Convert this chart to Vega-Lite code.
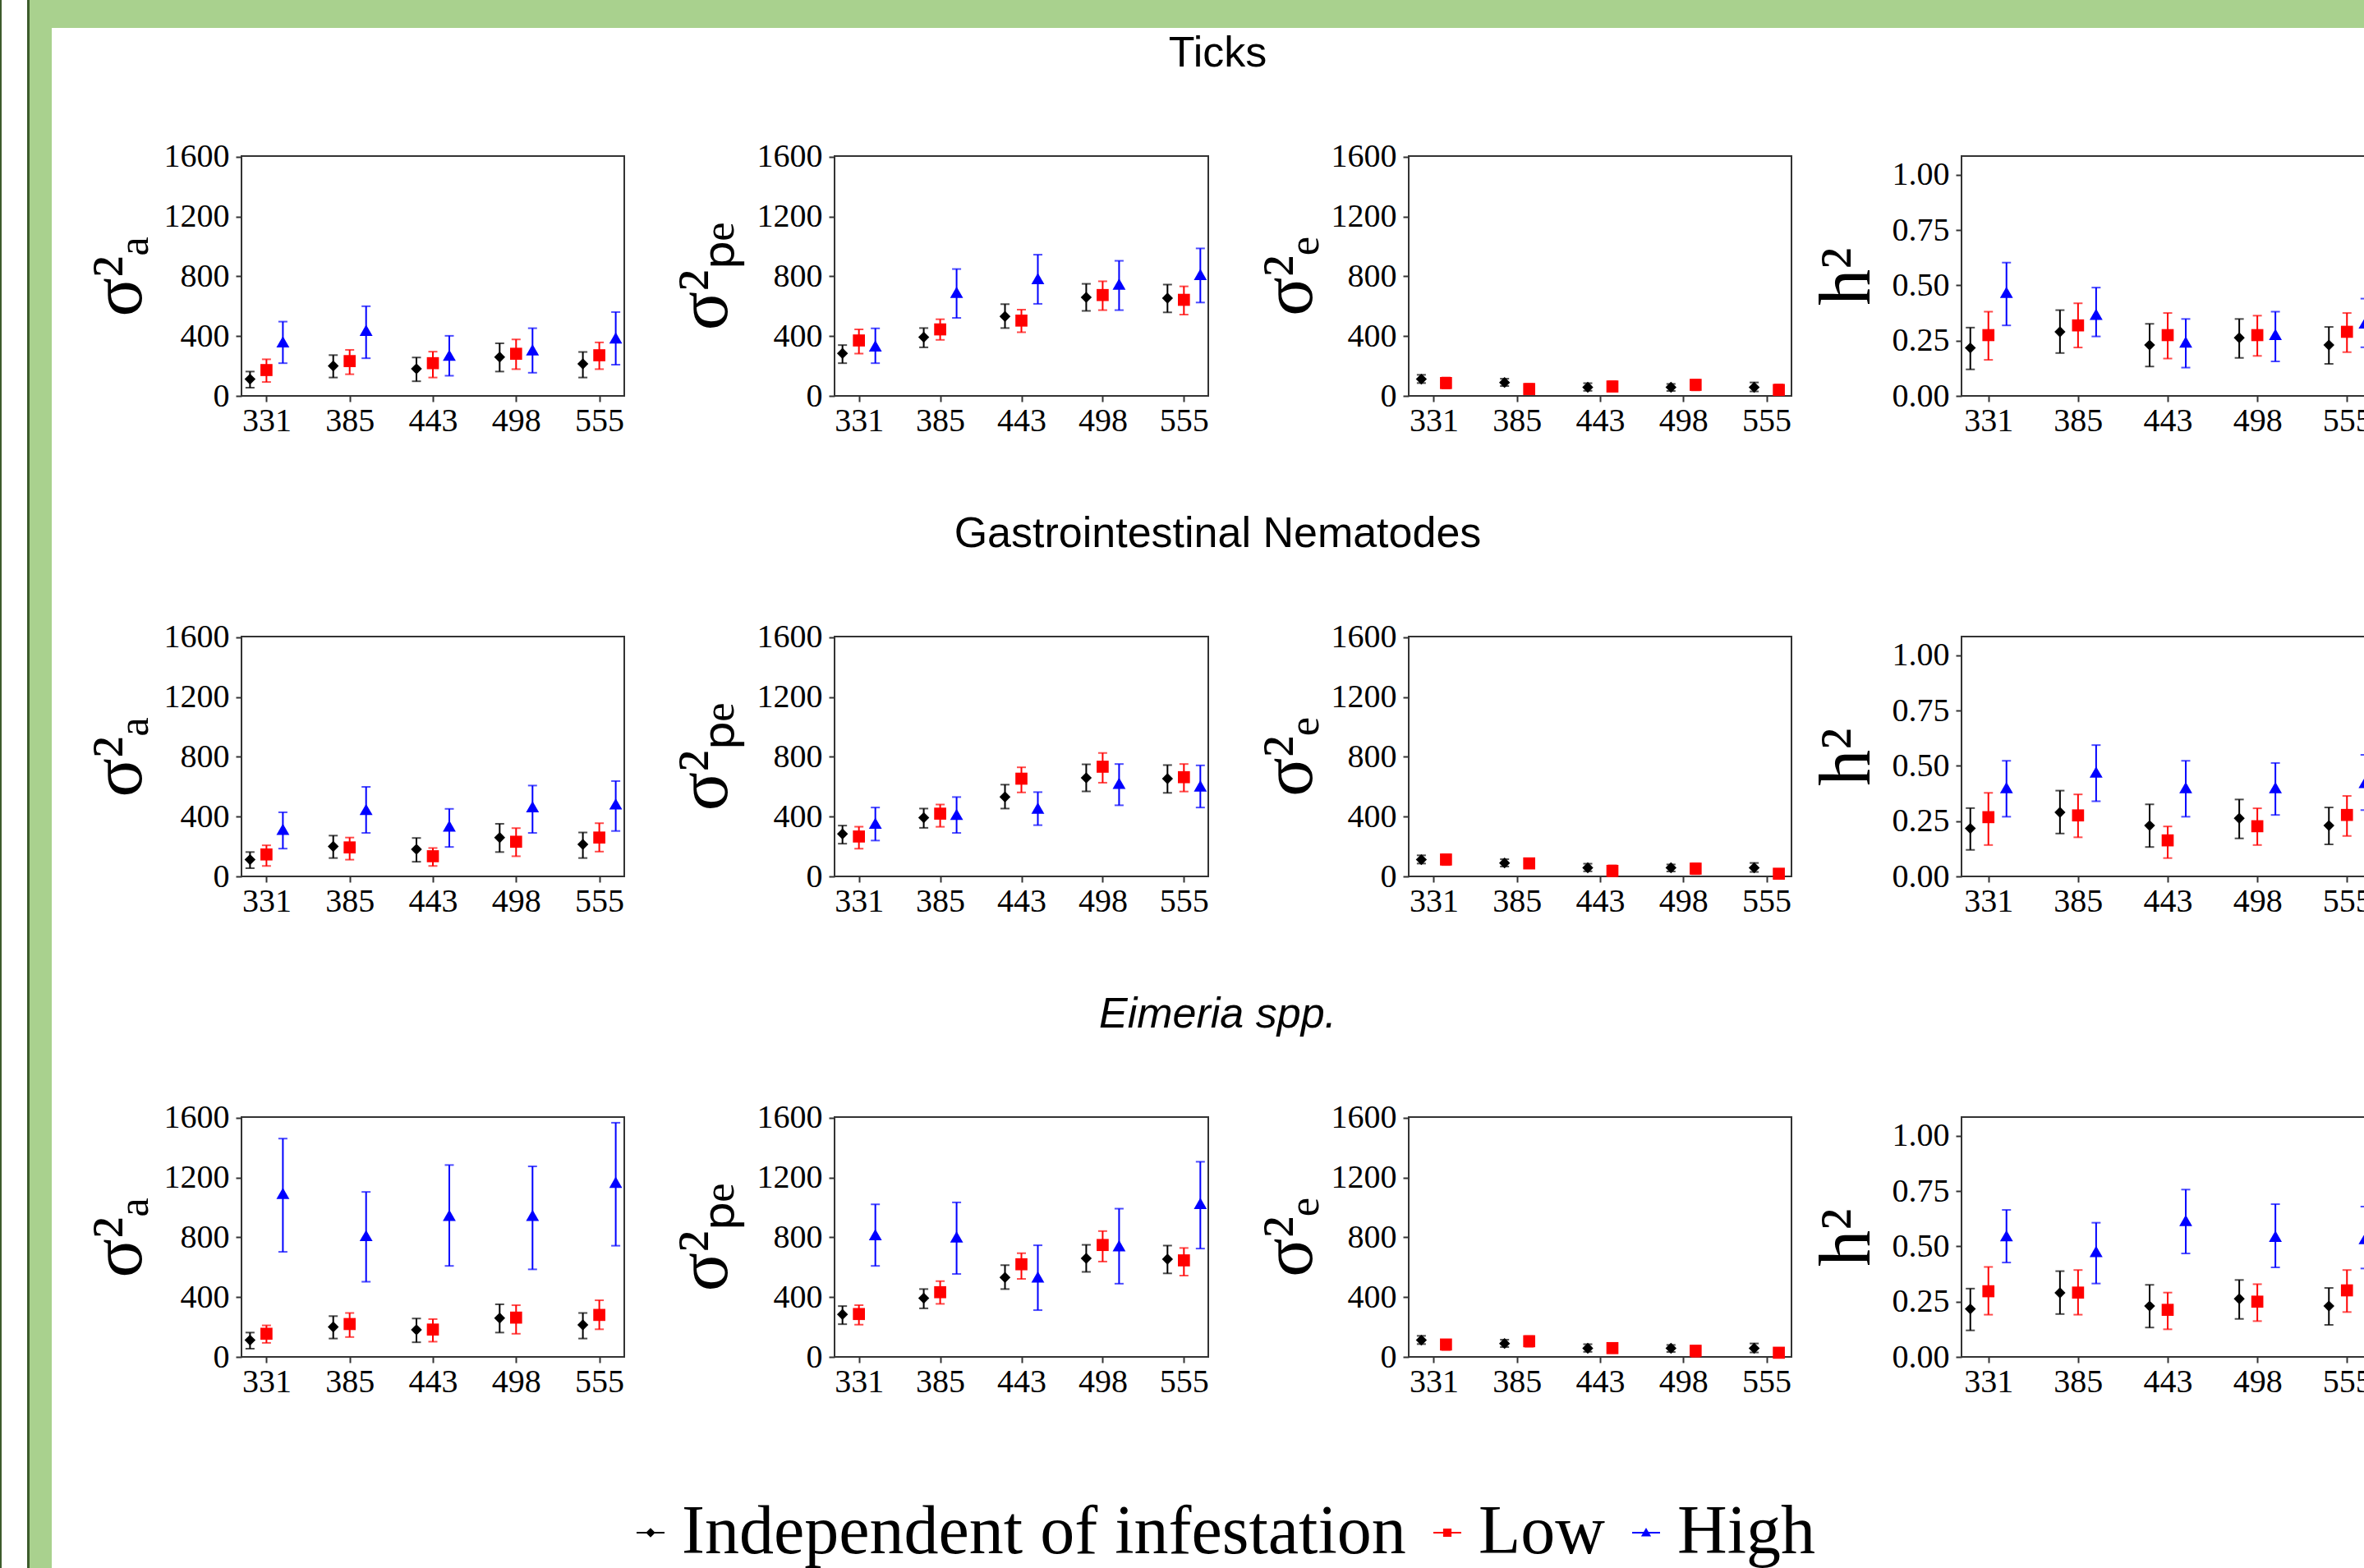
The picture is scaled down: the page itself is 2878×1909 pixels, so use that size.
{
"$schema": "https://vega.github.io/schema/vega-lite/v6.json",
"background": "#ffffff",
"padding": 0,
"spacing": 0,
"config": {
  "view": {"stroke": "#333333", "strokeWidth": 2},
  "concat": {"spacing": 0},
  "axis": {"labelFont": "Liberation Serif", "labelFontSize": 40, "labelColor": "#000000", "tickColor": "#333333", "tickSize": 7, "tickWidth": 2, "domain": false, "grid": false, "titleFont": "Liberation Serif", "titleFontSize": 88, "titleFontWeight": "normal", "titleColor": "#000000", "labelPadding": 8},
  "axisX": {"labelPadding": 3, "labelAngle": 0},
  "axisY": {"labelFlush": false},
  "tick": {"thickness": 2, "size": 11},
  "title": {"font": "Liberation Sans", "fontSize": 52, "fontWeight": "normal", "color": "#000000", "anchor": "middle", "offset": 78, "dx": -13}
},
"datasets": {"d": [
{"row":"T","param":"a","day":"331","group":"Independent of infestation","est":112,"lo":55,"hi":163},
{"row":"T","param":"a","day":"385","group":"Independent of infestation","est":201,"lo":123,"hi":273},
{"row":"T","param":"a","day":"443","group":"Independent of infestation","est":181,"lo":98,"hi":257},
{"row":"T","param":"a","day":"498","group":"Independent of infestation","est":260,"lo":163,"hi":352},
{"row":"T","param":"a","day":"555","group":"Independent of infestation","est":214,"lo":123,"hi":294},
{"row":"T","param":"pe","day":"331","group":"Independent of infestation","est":284,"lo":219,"hi":340},
{"row":"T","param":"pe","day":"385","group":"Independent of infestation","est":393,"lo":325,"hi":454},
{"row":"T","param":"pe","day":"443","group":"Independent of infestation","est":532,"lo":454,"hi":614},
{"row":"T","param":"pe","day":"498","group":"Independent of infestation","est":660,"lo":569,"hi":750},
{"row":"T","param":"pe","day":"555","group":"Independent of infestation","est":654,"lo":559,"hi":745},
{"row":"T","param":"e","day":"331","group":"Independent of infestation","est":112,"lo":86,"hi":141},
{"row":"T","param":"e","day":"385","group":"Independent of infestation","est":90,"lo":66,"hi":115},
{"row":"T","param":"e","day":"443","group":"Independent of infestation","est":58,"lo":34,"hi":85},
{"row":"T","param":"e","day":"498","group":"Independent of infestation","est":58,"lo":33,"hi":80},
{"row":"T","param":"e","day":"555","group":"Independent of infestation","est":58,"lo":30,"hi":90},
{"row":"T","param":"h","day":"331","group":"Independent of infestation","est":0.217,"lo":0.12,"hi":0.309},
{"row":"T","param":"h","day":"385","group":"Independent of infestation","est":0.29,"lo":0.194,"hi":0.388},
{"row":"T","param":"h","day":"443","group":"Independent of infestation","est":0.23,"lo":0.133,"hi":0.326},
{"row":"T","param":"h","day":"498","group":"Independent of infestation","est":0.263,"lo":0.172,"hi":0.348},
{"row":"T","param":"h","day":"555","group":"Independent of infestation","est":0.23,"lo":0.145,"hi":0.312},
{"row":"T","param":"a","day":"331","group":"Low","est":173,"lo":93,"hi":245},
{"row":"T","param":"a","day":"385","group":"Low","est":233,"lo":145,"hi":308},
{"row":"T","param":"a","day":"443","group":"Low","est":219,"lo":123,"hi":296},
{"row":"T","param":"a","day":"498","group":"Low","est":282,"lo":179,"hi":378},
{"row":"T","param":"a","day":"555","group":"Low","est":272,"lo":179,"hi":358},
{"row":"T","param":"pe","day":"331","group":"Low","est":371,"lo":283,"hi":445},
{"row":"T","param":"pe","day":"385","group":"Low","est":445,"lo":375,"hi":513},
{"row":"T","param":"pe","day":"443","group":"Low","est":504,"lo":426,"hi":577},
{"row":"T","param":"pe","day":"498","group":"Low","est":675,"lo":574,"hi":767},
{"row":"T","param":"pe","day":"555","group":"Low","est":643,"lo":544,"hi":733},
{"row":"T","param":"e","day":"331","group":"Low","est":86,"lo":50,"hi":123},
{"row":"T","param":"e","day":"385","group":"Low","est":46,"lo":18,"hi":81},
{"row":"T","param":"e","day":"443","group":"Low","est":63,"lo":31,"hi":99},
{"row":"T","param":"e","day":"498","group":"Low","est":74,"lo":37,"hi":108},
{"row":"T","param":"e","day":"555","group":"Low","est":40,"lo":5,"hi":77},
{"row":"T","param":"h","day":"331","group":"Low","est":0.275,"lo":0.163,"hi":0.381},
{"row":"T","param":"h","day":"385","group":"Low","est":0.319,"lo":0.219,"hi":0.419},
{"row":"T","param":"h","day":"443","group":"Low","est":0.275,"lo":0.169,"hi":0.375},
{"row":"T","param":"h","day":"498","group":"Low","est":0.275,"lo":0.181,"hi":0.363},
{"row":"T","param":"h","day":"555","group":"Low","est":0.29,"lo":0.198,"hi":0.375},
{"row":"T","param":"a","day":"331","group":"High","est":362,"lo":219,"hi":497},
{"row":"T","param":"a","day":"385","group":"High","est":439,"lo":252,"hi":600},
{"row":"T","param":"a","day":"443","group":"High","est":272,"lo":135,"hi":402},
{"row":"T","param":"a","day":"498","group":"High","est":308,"lo":155,"hi":453},
{"row":"T","param":"a","day":"555","group":"High","est":388,"lo":209,"hi":561},
{"row":"T","param":"pe","day":"331","group":"High","est":335,"lo":219,"hi":452},
{"row":"T","param":"pe","day":"385","group":"High","est":693,"lo":522,"hi":849},
{"row":"T","param":"pe","day":"443","group":"High","est":785,"lo":616,"hi":945},
{"row":"T","param":"pe","day":"498","group":"High","est":748,"lo":574,"hi":904},
{"row":"T","param":"pe","day":"555","group":"High","est":813,"lo":625,"hi":987},
{"row":"T","param":"h","day":"331","group":"High","est":0.469,"lo":0.319,"hi":0.603},
{"row":"T","param":"h","day":"385","group":"High","est":0.369,"lo":0.269,"hi":0.49},
{"row":"T","param":"h","day":"443","group":"High","est":0.244,"lo":0.128,"hi":0.348},
{"row":"T","param":"h","day":"498","group":"High","est":0.278,"lo":0.156,"hi":0.381},
{"row":"T","param":"h","day":"555","group":"High","est":0.33,"lo":0.22,"hi":0.44},
{"row":"G","param":"a","day":"331","group":"Independent of infestation","est":112,"lo":55,"hi":163},
{"row":"G","param":"a","day":"385","group":"Independent of infestation","est":201,"lo":123,"hi":273},
{"row":"G","param":"a","day":"443","group":"Independent of infestation","est":181,"lo":98,"hi":257},
{"row":"G","param":"a","day":"498","group":"Independent of infestation","est":260,"lo":163,"hi":352},
{"row":"G","param":"a","day":"555","group":"Independent of infestation","est":214,"lo":123,"hi":294},
{"row":"G","param":"pe","day":"331","group":"Independent of infestation","est":284,"lo":219,"hi":340},
{"row":"G","param":"pe","day":"385","group":"Independent of infestation","est":393,"lo":325,"hi":454},
{"row":"G","param":"pe","day":"443","group":"Independent of infestation","est":532,"lo":454,"hi":614},
{"row":"G","param":"pe","day":"498","group":"Independent of infestation","est":660,"lo":569,"hi":750},
{"row":"G","param":"pe","day":"555","group":"Independent of infestation","est":654,"lo":559,"hi":745},
{"row":"G","param":"e","day":"331","group":"Independent of infestation","est":112,"lo":86,"hi":141},
{"row":"G","param":"e","day":"385","group":"Independent of infestation","est":90,"lo":66,"hi":115},
{"row":"G","param":"e","day":"443","group":"Independent of infestation","est":58,"lo":34,"hi":85},
{"row":"G","param":"e","day":"498","group":"Independent of infestation","est":58,"lo":33,"hi":80},
{"row":"G","param":"e","day":"555","group":"Independent of infestation","est":58,"lo":30,"hi":90},
{"row":"G","param":"h","day":"331","group":"Independent of infestation","est":0.217,"lo":0.12,"hi":0.309},
{"row":"G","param":"h","day":"385","group":"Independent of infestation","est":0.29,"lo":0.194,"hi":0.388},
{"row":"G","param":"h","day":"443","group":"Independent of infestation","est":0.23,"lo":0.133,"hi":0.326},
{"row":"G","param":"h","day":"498","group":"Independent of infestation","est":0.263,"lo":0.172,"hi":0.348},
{"row":"G","param":"h","day":"555","group":"Independent of infestation","est":0.23,"lo":0.145,"hi":0.312},
{"row":"G","param":"a","day":"331","group":"Low","est":147,"lo":70,"hi":208},
{"row":"G","param":"a","day":"385","group":"Low","est":194,"lo":112,"hi":260},
{"row":"G","param":"a","day":"443","group":"Low","est":135,"lo":70,"hi":190},
{"row":"G","param":"a","day":"498","group":"Low","est":232,"lo":135,"hi":323},
{"row":"G","param":"a","day":"555","group":"Low","est":260,"lo":166,"hi":356},
{"row":"G","param":"pe","day":"331","group":"Low","est":267,"lo":186,"hi":332},
{"row":"G","param":"pe","day":"385","group":"Low","est":420,"lo":332,"hi":481},
{"row":"G","param":"pe","day":"443","group":"Low","est":654,"lo":562,"hi":730},
{"row":"G","param":"pe","day":"498","group":"Low","est":734,"lo":627,"hi":826},
{"row":"G","param":"pe","day":"555","group":"Low","est":664,"lo":568,"hi":752},
{"row":"G","param":"e","day":"331","group":"Low","est":113,"lo":76,"hi":148},
{"row":"G","param":"e","day":"385","group":"Low","est":87,"lo":55,"hi":116},
{"row":"G","param":"e","day":"443","group":"Low","est":37,"lo":0,"hi":74},
{"row":"G","param":"e","day":"498","group":"Low","est":52,"lo":15,"hi":87},
{"row":"G","param":"e","day":"555","group":"Low","est":18,"lo":0,"hi":42},
{"row":"G","param":"h","day":"331","group":"Low","est":0.268,"lo":0.142,"hi":0.378},
{"row":"G","param":"h","day":"385","group":"Low","est":0.276,"lo":0.177,"hi":0.371},
{"row":"G","param":"h","day":"443","group":"Low","est":0.163,"lo":0.083,"hi":0.226},
{"row":"G","param":"h","day":"498","group":"Low","est":0.227,"lo":0.142,"hi":0.308},
{"row":"G","param":"h","day":"555","group":"Low","est":0.278,"lo":0.183,"hi":0.364},
{"row":"G","param":"a","day":"331","group":"High","est":315,"lo":186,"hi":429},
{"row":"G","param":"a","day":"385","group":"High","est":448,"lo":291,"hi":599},
{"row":"G","param":"a","day":"443","group":"High","est":337,"lo":197,"hi":452},
{"row":"G","param":"a","day":"498","group":"High","est":466,"lo":291,"hi":608},
{"row":"G","param":"a","day":"555","group":"High","est":485,"lo":304,"hi":638},
{"row":"G","param":"pe","day":"331","group":"High","est":356,"lo":240,"hi":461},
{"row":"G","param":"pe","day":"385","group":"High","est":415,"lo":291,"hi":531},
{"row":"G","param":"pe","day":"443","group":"High","est":457,"lo":343,"hi":564},
{"row":"G","param":"pe","day":"498","group":"High","est":623,"lo":476,"hi":752},
{"row":"G","param":"pe","day":"555","group":"High","est":605,"lo":461,"hi":743},
{"row":"G","param":"h","day":"331","group":"High","est":0.402,"lo":0.27,"hi":0.523},
{"row":"G","param":"h","day":"385","group":"High","est":0.472,"lo":0.34,"hi":0.594},
{"row":"G","param":"h","day":"443","group":"High","est":0.402,"lo":0.27,"hi":0.523},
{"row":"G","param":"h","day":"498","group":"High","est":0.402,"lo":0.278,"hi":0.513},
{"row":"G","param":"h","day":"555","group":"High","est":0.425,"lo":0.3,"hi":0.55},
{"row":"E","param":"a","day":"331","group":"Independent of infestation","est":112,"lo":55,"hi":163},
{"row":"E","param":"a","day":"385","group":"Independent of infestation","est":201,"lo":123,"hi":273},
{"row":"E","param":"a","day":"443","group":"Independent of infestation","est":181,"lo":98,"hi":257},
{"row":"E","param":"a","day":"498","group":"Independent of infestation","est":260,"lo":163,"hi":352},
{"row":"E","param":"a","day":"555","group":"Independent of infestation","est":214,"lo":123,"hi":294},
{"row":"E","param":"pe","day":"331","group":"Independent of infestation","est":284,"lo":219,"hi":340},
{"row":"E","param":"pe","day":"385","group":"Independent of infestation","est":393,"lo":325,"hi":454},
{"row":"E","param":"pe","day":"443","group":"Independent of infestation","est":532,"lo":454,"hi":614},
{"row":"E","param":"pe","day":"498","group":"Independent of infestation","est":660,"lo":569,"hi":750},
{"row":"E","param":"pe","day":"555","group":"Independent of infestation","est":654,"lo":559,"hi":745},
{"row":"E","param":"e","day":"331","group":"Independent of infestation","est":112,"lo":86,"hi":141},
{"row":"E","param":"e","day":"385","group":"Independent of infestation","est":90,"lo":66,"hi":115},
{"row":"E","param":"e","day":"443","group":"Independent of infestation","est":58,"lo":34,"hi":85},
{"row":"E","param":"e","day":"498","group":"Independent of infestation","est":58,"lo":33,"hi":80},
{"row":"E","param":"e","day":"555","group":"Independent of infestation","est":58,"lo":30,"hi":90},
{"row":"E","param":"h","day":"331","group":"Independent of infestation","est":0.217,"lo":0.12,"hi":0.309},
{"row":"E","param":"h","day":"385","group":"Independent of infestation","est":0.29,"lo":0.194,"hi":0.388},
{"row":"E","param":"h","day":"443","group":"Independent of infestation","est":0.23,"lo":0.133,"hi":0.326},
{"row":"E","param":"h","day":"498","group":"Independent of infestation","est":0.263,"lo":0.172,"hi":0.348},
{"row":"E","param":"h","day":"555","group":"Independent of infestation","est":0.23,"lo":0.145,"hi":0.312},
{"row":"E","param":"a","day":"331","group":"Low","est":155,"lo":94,"hi":211},
{"row":"E","param":"a","day":"385","group":"Low","est":220,"lo":133,"hi":294},
{"row":"E","param":"a","day":"443","group":"Low","est":183,"lo":102,"hi":253},
{"row":"E","param":"a","day":"498","group":"Low","est":263,"lo":155,"hi":346},
{"row":"E","param":"a","day":"555","group":"Low","est":281,"lo":185,"hi":379},
{"row":"E","param":"pe","day":"331","group":"Low","est":287,"lo":216,"hi":346},
{"row":"E","param":"pe","day":"385","group":"Low","est":433,"lo":355,"hi":507},
{"row":"E","param":"pe","day":"443","group":"Low","est":620,"lo":522,"hi":694},
{"row":"E","param":"pe","day":"498","group":"Low","est":749,"lo":638,"hi":842},
{"row":"E","param":"pe","day":"555","group":"Low","est":646,"lo":544,"hi":729},
{"row":"E","param":"e","day":"331","group":"Low","est":83,"lo":46,"hi":115},
{"row":"E","param":"e","day":"385","group":"Low","est":105,"lo":68,"hi":139},
{"row":"E","param":"e","day":"443","group":"Low","est":59,"lo":26,"hi":87},
{"row":"E","param":"e","day":"498","group":"Low","est":41,"lo":0,"hi":74},
{"row":"E","param":"e","day":"555","group":"Low","est":28,"lo":0,"hi":54},
{"row":"E","param":"h","day":"331","group":"Low","est":0.297,"lo":0.191,"hi":0.407},
{"row":"E","param":"h","day":"385","group":"Low","est":0.291,"lo":0.191,"hi":0.393},
{"row":"E","param":"h","day":"443","group":"Low","est":0.213,"lo":0.125,"hi":0.291},
{"row":"E","param":"h","day":"498","group":"Low","est":0.25,"lo":0.162,"hi":0.329},
{"row":"E","param":"h","day":"555","group":"Low","est":0.301,"lo":0.203,"hi":0.393},
{"row":"E","param":"a","day":"331","group":"High","est":1095,"lo":703,"hi":1461},
{"row":"E","param":"a","day":"385","group":"High","est":812,"lo":503,"hi":1104},
{"row":"E","param":"a","day":"443","group":"High","est":947,"lo":609,"hi":1284},
{"row":"E","param":"a","day":"498","group":"High","est":947,"lo":586,"hi":1275},
{"row":"E","param":"a","day":"555","group":"High","est":1169,"lo":744,"hi":1567},
{"row":"E","param":"pe","day":"331","group":"High","est":818,"lo":609,"hi":1021},
{"row":"E","param":"pe","day":"385","group":"High","est":803,"lo":555,"hi":1034},
{"row":"E","param":"pe","day":"443","group":"High","est":535,"lo":313,"hi":747},
{"row":"E","param":"pe","day":"498","group":"High","est":744,"lo":490,"hi":992},
{"row":"E","param":"pe","day":"555","group":"High","est":1027,"lo":725,"hi":1306},
{"row":"E","param":"h","day":"331","group":"High","est":0.548,"lo":0.427,"hi":0.665},
{"row":"E","param":"h","day":"385","group":"High","est":0.477,"lo":0.332,"hi":0.607},
{"row":"E","param":"h","day":"443","group":"High","est":0.617,"lo":0.468,"hi":0.757},
{"row":"E","param":"h","day":"498","group":"High","est":0.546,"lo":0.405,"hi":0.691},
{"row":"E","param":"h","day":"555","group":"High","est":0.535,"lo":0.4,"hi":0.68}
]},
"hconcat": [
 {"width": 2, "height": 1909, "data": {"values": []}, "mark": {"type": "point", "opacity": 0}, "encoding": {}, "view": {"fill": "#3d5c2c", "stroke": null}},
 {"width": 31, "height": 1909, "data": {"values": []}, "mark": {"type": "point", "opacity": 0}, "encoding": {}, "view": {"fill": "#ffffff", "stroke": null}},
 {"width": 3, "height": 1909, "data": {"values": []}, "mark": {"type": "point", "opacity": 0}, "encoding": {}, "view": {"fill": "#3d5c2c", "stroke": null}},
 {"spacing": 0, "vconcat": [
  {"width": 2880, "height": 34, "data": {"values": []}, "mark": {"type": "point", "opacity": 0}, "encoding": {}, "view": {"fill": "#a9d18e", "stroke": null}},
  {"spacing": 0, "hconcat": [
   {"width": 27, "height": 1875, "data": {"values": []}, "mark": {"type": "point", "opacity": 0}, "encoding": {}, "view": {"fill": "#a9d18e", "stroke": null}},
   {"width": 37, "height": 10, "data": {"values": []}, "mark": {"type": "point", "opacity": 0}, "encoding": {}, "view": {"fill": null, "stroke": null}},
   {"spacing": 0, "vconcat": [
    {"width": 10, "height": 4, "data": {"values": []}, "mark": {"type": "point", "opacity": 0}, "encoding": {}, "view": {"fill": null, "stroke": null}},
    {"spacing": 90,
     "resolve": {"scale": {"color": "independent", "shape": "independent", "size": "independent"}, "legend": {"color": "independent", "shape": "independent", "size": "independent"}},
     "vconcat": [
      {"title": {"text": "Ticks"}, "spacing": 22, "resolve": {"scale": {"xOffset": "independent"}},
       "hconcat": [
        {"spacing": 52, "resolve": {"scale": {"xOffset": "independent"}}, "hconcat": [
        {"width": 466, "height": 292, "data": {"name": "d"}, "transform": [{"filter": "datum.row === 'T' && datum.param === 'a'"}],
         "encoding": {"x": {"field": "day", "type": "ordinal", "scale": {"type": "point", "padding": 0.3}, "axis": {"title": null}},
          "xOffset": {"field": "group", "type": "nominal", "scale": {"type": "point", "domain": ["Independent of infestation", "Low", "High"], "range": [-20, 20], "padding": 0}},
          "color": {"field": "group", "type": "nominal", "scale": {"domain": ["Independent of infestation", "Low", "High"], "range": ["#000000", "#ff0000", "#0000ff"]}, "legend": null}},
         "layer": [
          {"mark": {"type": "rule", "strokeWidth": 2}, "encoding": {"y": {"field": "lo", "type": "quantitative", "title": "σ²ₐ", "scale": {"domain": [0, 1605], "nice": false}, "axis": {"values": [0, 400, 800, 1200, 1600], "format": "d", "titlePadding": 10}}, "y2": {"field": "hi"}}},
          {"mark": {"type": "tick"}, "encoding": {"y": {"field": "lo", "type": "quantitative", "title": "σ²ₐ"}}},
          {"mark": {"type": "tick"}, "encoding": {"y": {"field": "hi", "type": "quantitative", "title": "σ²ₐ"}}},
          {"mark": {"type": "point", "filled": true, "opacity": 1}, "encoding": {"y": {"field": "est", "type": "quantitative", "title": "σ²ₐ"}, "shape": {"field": "group", "type": "nominal", "scale": {"domain": ["Independent of infestation", "Low", "High"], "range": ["diamond", "square", "triangle-up"]}, "legend": null}, "size": {"field": "group", "type": "ordinal", "scale": {"domain": ["Independent of infestation", "Low", "High"], "range": [180, 250, 330]}, "legend": null}}}
         ]},
        {"width": 455, "height": 292, "data": {"name": "d"}, "transform": [{"filter": "datum.row === 'T' && datum.param === 'pe'"}],
         "encoding": {"x": {"field": "day", "type": "ordinal", "scale": {"type": "point", "padding": 0.3}, "axis": {"title": null}},
          "xOffset": {"field": "group", "type": "nominal", "scale": {"type": "point", "domain": ["Independent of infestation", "Low", "High"], "range": [-20, 20], "padding": 0}},
          "color": {"field": "group", "type": "nominal", "scale": {"domain": ["Independent of infestation", "Low", "High"], "range": ["#000000", "#ff0000", "#0000ff"]}, "legend": null}},
         "layer": [
          {"mark": {"type": "rule", "strokeWidth": 2}, "encoding": {"y": {"field": "lo", "type": "quantitative", "title": "σ²ₚₑ", "scale": {"domain": [0, 1605], "nice": false}, "axis": {"values": [0, 400, 800, 1200, 1600], "format": "d", "titlePadding": 19}}, "y2": {"field": "hi"}}},
          {"mark": {"type": "tick"}, "encoding": {"y": {"field": "lo", "type": "quantitative", "title": "σ²ₚₑ"}}},
          {"mark": {"type": "tick"}, "encoding": {"y": {"field": "hi", "type": "quantitative", "title": "σ²ₚₑ"}}},
          {"mark": {"type": "point", "filled": true, "opacity": 1}, "encoding": {"y": {"field": "est", "type": "quantitative", "title": "σ²ₚₑ"}, "shape": {"field": "group", "type": "nominal", "scale": {"domain": ["Independent of infestation", "Low", "High"], "range": ["diamond", "square", "triangle-up"]}, "legend": null}, "size": {"field": "group", "type": "ordinal", "scale": {"domain": ["Independent of infestation", "Low", "High"], "range": [180, 250, 330]}, "legend": null}}}
         ]},
        {"width": 466, "height": 292, "data": {"name": "d"}, "transform": [{"filter": "datum.row === 'T' && datum.param === 'e'"}],
         "encoding": {"x": {"field": "day", "type": "ordinal", "scale": {"type": "point", "padding": 0.3}, "axis": {"title": null}},
          "xOffset": {"field": "group", "type": "nominal", "scale": {"type": "point", "domain": ["Independent of infestation", "Low"], "range": [-15, 15], "padding": 0}},
          "color": {"field": "group", "type": "nominal", "scale": {"domain": ["Independent of infestation", "Low", "High"], "range": ["#000000", "#ff0000", "#0000ff"]}, "legend": null}},
         "layer": [
          {"mark": {"type": "rule", "strokeWidth": 2}, "encoding": {"y": {"field": "lo", "type": "quantitative", "title": "σ²ₑ", "scale": {"domain": [0, 1605], "nice": false}, "axis": {"values": [0, 400, 800, 1200, 1600], "format": "d", "titlePadding": 6}}, "y2": {"field": "hi"}}},
          {"mark": {"type": "tick"}, "encoding": {"y": {"field": "lo", "type": "quantitative", "title": "σ²ₑ"}}},
          {"mark": {"type": "tick"}, "encoding": {"y": {"field": "hi", "type": "quantitative", "title": "σ²ₑ"}}},
          {"mark": {"type": "point", "filled": true, "opacity": 1}, "encoding": {"y": {"field": "est", "type": "quantitative", "title": "σ²ₑ"}, "shape": {"field": "group", "type": "nominal", "scale": {"domain": ["Independent of infestation", "Low", "High"], "range": ["diamond", "square", "triangle-up"]}, "legend": null}, "size": {"field": "group", "type": "ordinal", "scale": {"domain": ["Independent of infestation", "Low", "High"], "range": [180, 250, 330]}, "legend": null}}}
         ]}
        ]},
        {"width": 502, "height": 292, "data": {"name": "d"}, "transform": [{"filter": "datum.row === 'T' && datum.param === 'h'"}],
         "encoding": {"x": {"field": "day", "type": "ordinal", "scale": {"type": "point", "padding": 0.3}, "axis": {"title": null}},
          "xOffset": {"field": "group", "type": "nominal", "scale": {"type": "point", "domain": ["Independent of infestation", "Low", "High"], "range": [-22, 22], "padding": 0}},
          "color": {"field": "group", "type": "nominal", "scale": {"domain": ["Independent of infestation", "Low", "High"], "range": ["#000000", "#ff0000", "#0000ff"]}, "legend": null}},
         "layer": [
          {"mark": {"type": "rule", "strokeWidth": 2}, "encoding": {"y": {"field": "lo", "type": "quantitative", "title": "h²", "scale": {"domain": [0, 1.085], "nice": false}, "axis": {"values": [0, 0.25, 0.5, 0.75, 1], "format": ".2f", "titlePadding": 10}}, "y2": {"field": "hi"}}},
          {"mark": {"type": "tick"}, "encoding": {"y": {"field": "lo", "type": "quantitative", "title": "h²"}}},
          {"mark": {"type": "tick"}, "encoding": {"y": {"field": "hi", "type": "quantitative", "title": "h²"}}},
          {"mark": {"type": "point", "filled": true, "opacity": 1}, "encoding": {"y": {"field": "est", "type": "quantitative", "title": "h²"}, "shape": {"field": "group", "type": "nominal", "scale": {"domain": ["Independent of infestation", "Low", "High"], "range": ["diamond", "square", "triangle-up"]}, "legend": null}, "size": {"field": "group", "type": "ordinal", "scale": {"domain": ["Independent of infestation", "Low", "High"], "range": [180, 250, 330]}, "legend": null}}}
         ]}
       ]},
      {"title": {"text": "Gastrointestinal Nematodes"}, "spacing": 22, "resolve": {"scale": {"xOffset": "independent"}},
       "hconcat": [
        {"spacing": 52, "resolve": {"scale": {"xOffset": "independent"}}, "hconcat": [
        {"width": 466, "height": 292, "data": {"name": "d"}, "transform": [{"filter": "datum.row === 'G' && datum.param === 'a'"}],
         "encoding": {"x": {"field": "day", "type": "ordinal", "scale": {"type": "point", "padding": 0.3}, "axis": {"title": null}},
          "xOffset": {"field": "group", "type": "nominal", "scale": {"type": "point", "domain": ["Independent of infestation", "Low", "High"], "range": [-20, 20], "padding": 0}},
          "color": {"field": "group", "type": "nominal", "scale": {"domain": ["Independent of infestation", "Low", "High"], "range": ["#000000", "#ff0000", "#0000ff"]}, "legend": null}},
         "layer": [
          {"mark": {"type": "rule", "strokeWidth": 2}, "encoding": {"y": {"field": "lo", "type": "quantitative", "title": "σ²ₐ", "scale": {"domain": [0, 1605], "nice": false}, "axis": {"values": [0, 400, 800, 1200, 1600], "format": "d", "titlePadding": 10}}, "y2": {"field": "hi"}}},
          {"mark": {"type": "tick"}, "encoding": {"y": {"field": "lo", "type": "quantitative", "title": "σ²ₐ"}}},
          {"mark": {"type": "tick"}, "encoding": {"y": {"field": "hi", "type": "quantitative", "title": "σ²ₐ"}}},
          {"mark": {"type": "point", "filled": true, "opacity": 1}, "encoding": {"y": {"field": "est", "type": "quantitative", "title": "σ²ₐ"}, "shape": {"field": "group", "type": "nominal", "scale": {"domain": ["Independent of infestation", "Low", "High"], "range": ["diamond", "square", "triangle-up"]}, "legend": null}, "size": {"field": "group", "type": "ordinal", "scale": {"domain": ["Independent of infestation", "Low", "High"], "range": [180, 250, 330]}, "legend": null}}}
         ]},
        {"width": 455, "height": 292, "data": {"name": "d"}, "transform": [{"filter": "datum.row === 'G' && datum.param === 'pe'"}],
         "encoding": {"x": {"field": "day", "type": "ordinal", "scale": {"type": "point", "padding": 0.3}, "axis": {"title": null}},
          "xOffset": {"field": "group", "type": "nominal", "scale": {"type": "point", "domain": ["Independent of infestation", "Low", "High"], "range": [-20, 20], "padding": 0}},
          "color": {"field": "group", "type": "nominal", "scale": {"domain": ["Independent of infestation", "Low", "High"], "range": ["#000000", "#ff0000", "#0000ff"]}, "legend": null}},
         "layer": [
          {"mark": {"type": "rule", "strokeWidth": 2}, "encoding": {"y": {"field": "lo", "type": "quantitative", "title": "σ²ₚₑ", "scale": {"domain": [0, 1605], "nice": false}, "axis": {"values": [0, 400, 800, 1200, 1600], "format": "d", "titlePadding": 19}}, "y2": {"field": "hi"}}},
          {"mark": {"type": "tick"}, "encoding": {"y": {"field": "lo", "type": "quantitative", "title": "σ²ₚₑ"}}},
          {"mark": {"type": "tick"}, "encoding": {"y": {"field": "hi", "type": "quantitative", "title": "σ²ₚₑ"}}},
          {"mark": {"type": "point", "filled": true, "opacity": 1}, "encoding": {"y": {"field": "est", "type": "quantitative", "title": "σ²ₚₑ"}, "shape": {"field": "group", "type": "nominal", "scale": {"domain": ["Independent of infestation", "Low", "High"], "range": ["diamond", "square", "triangle-up"]}, "legend": null}, "size": {"field": "group", "type": "ordinal", "scale": {"domain": ["Independent of infestation", "Low", "High"], "range": [180, 250, 330]}, "legend": null}}}
         ]},
        {"width": 466, "height": 292, "data": {"name": "d"}, "transform": [{"filter": "datum.row === 'G' && datum.param === 'e'"}],
         "encoding": {"x": {"field": "day", "type": "ordinal", "scale": {"type": "point", "padding": 0.3}, "axis": {"title": null}},
          "xOffset": {"field": "group", "type": "nominal", "scale": {"type": "point", "domain": ["Independent of infestation", "Low"], "range": [-15, 15], "padding": 0}},
          "color": {"field": "group", "type": "nominal", "scale": {"domain": ["Independent of infestation", "Low", "High"], "range": ["#000000", "#ff0000", "#0000ff"]}, "legend": null}},
         "layer": [
          {"mark": {"type": "rule", "strokeWidth": 2}, "encoding": {"y": {"field": "lo", "type": "quantitative", "title": "σ²ₑ", "scale": {"domain": [0, 1605], "nice": false}, "axis": {"values": [0, 400, 800, 1200, 1600], "format": "d", "titlePadding": 6}}, "y2": {"field": "hi"}}},
          {"mark": {"type": "tick"}, "encoding": {"y": {"field": "lo", "type": "quantitative", "title": "σ²ₑ"}}},
          {"mark": {"type": "tick"}, "encoding": {"y": {"field": "hi", "type": "quantitative", "title": "σ²ₑ"}}},
          {"mark": {"type": "point", "filled": true, "opacity": 1}, "encoding": {"y": {"field": "est", "type": "quantitative", "title": "σ²ₑ"}, "shape": {"field": "group", "type": "nominal", "scale": {"domain": ["Independent of infestation", "Low", "High"], "range": ["diamond", "square", "triangle-up"]}, "legend": null}, "size": {"field": "group", "type": "ordinal", "scale": {"domain": ["Independent of infestation", "Low", "High"], "range": [180, 250, 330]}, "legend": null}}}
         ]}
        ]},
        {"width": 502, "height": 292, "data": {"name": "d"}, "transform": [{"filter": "datum.row === 'G' && datum.param === 'h'"}],
         "encoding": {"x": {"field": "day", "type": "ordinal", "scale": {"type": "point", "padding": 0.3}, "axis": {"title": null}},
          "xOffset": {"field": "group", "type": "nominal", "scale": {"type": "point", "domain": ["Independent of infestation", "Low", "High"], "range": [-22, 22], "padding": 0}},
          "color": {"field": "group", "type": "nominal", "scale": {"domain": ["Independent of infestation", "Low", "High"], "range": ["#000000", "#ff0000", "#0000ff"]}, "legend": null}},
         "layer": [
          {"mark": {"type": "rule", "strokeWidth": 2}, "encoding": {"y": {"field": "lo", "type": "quantitative", "title": "h²", "scale": {"domain": [0, 1.085], "nice": false}, "axis": {"values": [0, 0.25, 0.5, 0.75, 1], "format": ".2f", "titlePadding": 10}}, "y2": {"field": "hi"}}},
          {"mark": {"type": "tick"}, "encoding": {"y": {"field": "lo", "type": "quantitative", "title": "h²"}}},
          {"mark": {"type": "tick"}, "encoding": {"y": {"field": "hi", "type": "quantitative", "title": "h²"}}},
          {"mark": {"type": "point", "filled": true, "opacity": 1}, "encoding": {"y": {"field": "est", "type": "quantitative", "title": "h²"}, "shape": {"field": "group", "type": "nominal", "scale": {"domain": ["Independent of infestation", "Low", "High"], "range": ["diamond", "square", "triangle-up"]}, "legend": null}, "size": {"field": "group", "type": "ordinal", "scale": {"domain": ["Independent of infestation", "Low", "High"], "range": [180, 250, 330]}, "legend": null}}}
         ]}
       ]},
      {"title": {"text": "Eimeria spp.", "fontStyle": "italic"}, "spacing": 22, "resolve": {"scale": {"xOffset": "independent"}},
       "hconcat": [
        {"spacing": 52, "resolve": {"scale": {"xOffset": "independent"}}, "hconcat": [
        {"width": 466, "height": 292, "data": {"name": "d"}, "transform": [{"filter": "datum.row === 'E' && datum.param === 'a'"}],
         "encoding": {"x": {"field": "day", "type": "ordinal", "scale": {"type": "point", "padding": 0.3}, "axis": {"title": null}},
          "xOffset": {"field": "group", "type": "nominal", "scale": {"type": "point", "domain": ["Independent of infestation", "Low", "High"], "range": [-20, 20], "padding": 0}},
          "color": {"field": "group", "type": "nominal", "scale": {"domain": ["Independent of infestation", "Low", "High"], "range": ["#000000", "#ff0000", "#0000ff"]}, "legend": null}},
         "layer": [
          {"mark": {"type": "rule", "strokeWidth": 2}, "encoding": {"y": {"field": "lo", "type": "quantitative", "title": "σ²ₐ", "scale": {"domain": [0, 1605], "nice": false}, "axis": {"values": [0, 400, 800, 1200, 1600], "format": "d", "titlePadding": 10}}, "y2": {"field": "hi"}}},
          {"mark": {"type": "tick"}, "encoding": {"y": {"field": "lo", "type": "quantitative", "title": "σ²ₐ"}}},
          {"mark": {"type": "tick"}, "encoding": {"y": {"field": "hi", "type": "quantitative", "title": "σ²ₐ"}}},
          {"mark": {"type": "point", "filled": true, "opacity": 1}, "encoding": {"y": {"field": "est", "type": "quantitative", "title": "σ²ₐ"}, "shape": {"field": "group", "type": "nominal", "scale": {"domain": ["Independent of infestation", "Low", "High"], "range": ["diamond", "square", "triangle-up"]}, "legend": null}, "size": {"field": "group", "type": "ordinal", "scale": {"domain": ["Independent of infestation", "Low", "High"], "range": [180, 250, 330]}, "legend": null}}}
         ]},
        {"width": 455, "height": 292, "data": {"name": "d"}, "transform": [{"filter": "datum.row === 'E' && datum.param === 'pe'"}],
         "encoding": {"x": {"field": "day", "type": "ordinal", "scale": {"type": "point", "padding": 0.3}, "axis": {"title": null}},
          "xOffset": {"field": "group", "type": "nominal", "scale": {"type": "point", "domain": ["Independent of infestation", "Low", "High"], "range": [-20, 20], "padding": 0}},
          "color": {"field": "group", "type": "nominal", "scale": {"domain": ["Independent of infestation", "Low", "High"], "range": ["#000000", "#ff0000", "#0000ff"]}, "legend": null}},
         "layer": [
          {"mark": {"type": "rule", "strokeWidth": 2}, "encoding": {"y": {"field": "lo", "type": "quantitative", "title": "σ²ₚₑ", "scale": {"domain": [0, 1605], "nice": false}, "axis": {"values": [0, 400, 800, 1200, 1600], "format": "d", "titlePadding": 19}}, "y2": {"field": "hi"}}},
          {"mark": {"type": "tick"}, "encoding": {"y": {"field": "lo", "type": "quantitative", "title": "σ²ₚₑ"}}},
          {"mark": {"type": "tick"}, "encoding": {"y": {"field": "hi", "type": "quantitative", "title": "σ²ₚₑ"}}},
          {"mark": {"type": "point", "filled": true, "opacity": 1}, "encoding": {"y": {"field": "est", "type": "quantitative", "title": "σ²ₚₑ"}, "shape": {"field": "group", "type": "nominal", "scale": {"domain": ["Independent of infestation", "Low", "High"], "range": ["diamond", "square", "triangle-up"]}, "legend": null}, "size": {"field": "group", "type": "ordinal", "scale": {"domain": ["Independent of infestation", "Low", "High"], "range": [180, 250, 330]}, "legend": null}}}
         ]},
        {"width": 466, "height": 292, "data": {"name": "d"}, "transform": [{"filter": "datum.row === 'E' && datum.param === 'e'"}],
         "encoding": {"x": {"field": "day", "type": "ordinal", "scale": {"type": "point", "padding": 0.3}, "axis": {"title": null}},
          "xOffset": {"field": "group", "type": "nominal", "scale": {"type": "point", "domain": ["Independent of infestation", "Low"], "range": [-15, 15], "padding": 0}},
          "color": {"field": "group", "type": "nominal", "scale": {"domain": ["Independent of infestation", "Low", "High"], "range": ["#000000", "#ff0000", "#0000ff"]}, "legend": null}},
         "layer": [
          {"mark": {"type": "rule", "strokeWidth": 2}, "encoding": {"y": {"field": "lo", "type": "quantitative", "title": "σ²ₑ", "scale": {"domain": [0, 1605], "nice": false}, "axis": {"values": [0, 400, 800, 1200, 1600], "format": "d", "titlePadding": 6}}, "y2": {"field": "hi"}}},
          {"mark": {"type": "tick"}, "encoding": {"y": {"field": "lo", "type": "quantitative", "title": "σ²ₑ"}}},
          {"mark": {"type": "tick"}, "encoding": {"y": {"field": "hi", "type": "quantitative", "title": "σ²ₑ"}}},
          {"mark": {"type": "point", "filled": true, "opacity": 1}, "encoding": {"y": {"field": "est", "type": "quantitative", "title": "σ²ₑ"}, "shape": {"field": "group", "type": "nominal", "scale": {"domain": ["Independent of infestation", "Low", "High"], "range": ["diamond", "square", "triangle-up"]}, "legend": null}, "size": {"field": "group", "type": "ordinal", "scale": {"domain": ["Independent of infestation", "Low", "High"], "range": [180, 250, 330]}, "legend": null}}}
         ]}
        ]},
        {"width": 502, "height": 292, "data": {"name": "d"}, "transform": [{"filter": "datum.row === 'E' && datum.param === 'h'"}],
         "encoding": {"x": {"field": "day", "type": "ordinal", "scale": {"type": "point", "padding": 0.3}, "axis": {"title": null}},
          "xOffset": {"field": "group", "type": "nominal", "scale": {"type": "point", "domain": ["Independent of infestation", "Low", "High"], "range": [-22, 22], "padding": 0}},
          "color": {"field": "group", "type": "nominal", "scale": {"domain": ["Independent of infestation", "Low", "High"], "range": ["#000000", "#ff0000", "#0000ff"]}, "legend": null}},
         "layer": [
          {"mark": {"type": "rule", "strokeWidth": 2}, "encoding": {"y": {"field": "lo", "type": "quantitative", "title": "h²", "scale": {"domain": [0, 1.085], "nice": false}, "axis": {"values": [0, 0.25, 0.5, 0.75, 1], "format": ".2f", "titlePadding": 10}}, "y2": {"field": "hi"}}},
          {"mark": {"type": "tick"}, "encoding": {"y": {"field": "lo", "type": "quantitative", "title": "h²"}}},
          {"mark": {"type": "tick"}, "encoding": {"y": {"field": "hi", "type": "quantitative", "title": "h²"}}},
          {"mark": {"type": "point", "filled": true, "opacity": 1}, "encoding": {"y": {"field": "est", "type": "quantitative", "title": "h²"}, "shape": {"field": "group", "type": "nominal", "scale": {"domain": ["Independent of infestation", "Low", "High"], "range": ["diamond", "square", "triangle-up"]}, "legend": null}, "size": {"field": "group", "type": "ordinal", "scale": {"domain": ["Independent of infestation", "Low", "High"], "range": [180, 250, 330]}, "legend": null}}}
         ]}
       ]},
      {"width": 10, "height": 10, "view": {"fill": null, "stroke": null},
       "data": {"values": [{"group": "Independent of infestation"}, {"group": "Low"}, {"group": "High"}]},
       "mark": {"type": "point", "filled": true, "opacity": 0},
       "encoding": {
        "color": {"field": "group", "type": "nominal", "scale": {"domain": ["Independent of infestation", "Low", "High"], "range": ["#000000", "#ff0000", "#0000ff"]},
          "legend": {"orient": "none", "legendX": 456, "legendY": 31, "direction": "horizontal", "title": null, "padding": 0, "labelFont": "Liberation Serif", "labelFontSize": 84, "labelColor": "#000000", "labelLimit": 2000, "labelOffset": -4, "columnPadding": 8, "symbolSize": 1156, "symbolStrokeWidth": 0, "symbolOpacity": 1,
            "encode": {"symbols": {"update": {"opacity": {"value": 1}, "fillOpacity": {"value": 1}, "strokeOpacity": {"value": 1}}}}}},
        "shape": {"field": "group", "type": "nominal", "scale": {"domain": ["Independent of infestation", "Low", "High"], "range": ["M-1,-0.06H1V0.06H-1Z M0,-0.34L0.34,0L0,0.34L-0.34,0Z", "M-1,-0.06H1V0.06H-1Z M-0.3,-0.3H0.3V0.3H-0.3Z", "M-1,-0.06H1V0.06H-1Z M0,-0.36L0.36,0.26H-0.36Z"]}}
       }}
     ]}
   ]}
  ]}
 ]}
]
}
